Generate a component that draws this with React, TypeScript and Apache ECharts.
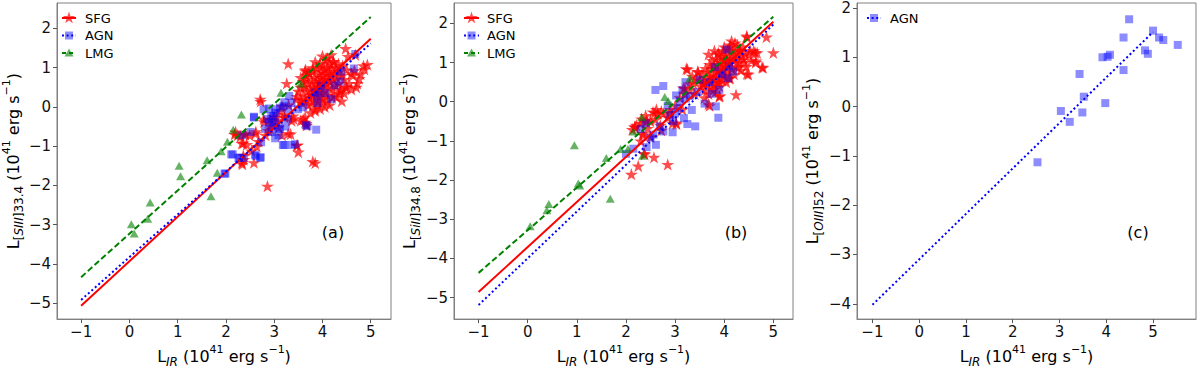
import React, { useEffect, useRef } from "react";
import * as echarts from "echarts";

// ---------- tick values ----------
const xTicks = [-1, 0, 1, 2, 3, 4, 5];
const yTicksAB = [-5, -4, -3, -2, -1, 0, 1, 2];
const yTicksC = [-4, -3, -2, -1, 0, 1, 2];

// ---------- axis ranges ----------
const xRanges = [[-1.5, 5.42], [-1.5, 5.4], [-1.33, 5.92]];
const yRanges = [[-5.41, 2.65], [-5.55, 2.52], [-4.31, 2.1]];

const panelLetters = ["(a)", "(b)", "(c)"];
const legendNamesAB = ["SFG", "AGN", "LMG"];
const legendNamesC = ["AGN"];

// ---------- fit lines ----------
const fitA_SFG = [[-1, -5.07], [5, 1.74]];
const fitA_AGN = [[-1, -4.92], [5, 1.62]];
const fitA_LMG = [[-1, -4.34], [5, 2.29]];
const fitB_SFG = [[-1, -4.86], [5, 2.04]];
const fitB_AGN = [[-1, -5.19], [5, 1.97]];
const fitB_LMG = [[-1, -4.37], [5, 2.17]];
const fitC_AGN = [[-1, -4.02], [5, 1.51]];

// ---------- panel (a) data ----------
const aLMG = [
  [0.04, -2.99], [0.1, -3.23], [0.38, -2.85], [0.43, -2.44], [1.03, -1.5], [1.06, -1.77],
  [1.61, -1.36], [1.69, -2.28], [1.82, -1.68], [1.9, -1.13], [2.03, -0.89], [2.15, -0.58],
  [2.32, -0.19], [3.14, 0.36], [3.55, 0.6],
];
const aAGN = [
  [1.99, -1.7], [2.11, -1.21], [2.26, -1.3], [2.37, -1.3], [2.71, -1.3], [2.6, -1.22],
  [2.58, -0.25], [2.73, -0.9], [2.81, -0.56], [2.89, -0.04], [2.94, -0.23], [2.97, -0.44],
  [3.02, -0.8], [3.03, -0.15], [3.12, -0.02], [3.18, -0.97], [3.21, 0.12], [3.24, -0.5],
  [3.28, -0.3], [3.36, 0.1], [3.43, -0.95], [3.49, -0.06], [3.69, -0.49], [3.87, -0.58],
  [3.89, 0.1], [4.18, 0.2], [4.37, 0.65], [4.65, 0.98], [4.68, 1.35], [4.38, 0.9],
  [3.97, 0.54], [2.89, -0.4], [3.09, -0.52], [3.31, 0.28], [3.6, -0.01], [3.84, 0.37],
  [2.78, -0.06], [3.02, -0.06], [2.98, -0.23], [3.19, 0.02], [3.29, -0.06], [3.02, -0.39],
  [3.12, -0.56], [3.21, -0.97], [3.36, -0.97], [3.66, -0.46], [2.14, -1.21], [2.28, -1.29],
  [2.62, -1.25], [2.72, -1.28], [1.97, -1.7], [2.58, -0.27], [2.34, -0.72], [2.51, -0.64],
  [2.95, -0.64], [2.85, -0.31], [3.09, -0.72], [3.9, 0.3], [4.05, 0.35], [4.25, 0.55],
];
const aSFG = [
  [2.33, -1.42], [2.36, -1.24], [2.58, -1.42], [2.86, -2.02], [2.72, 0.14], [2.79, -0.38],
  [2.24, -0.72], [2.36, -0.92], [2.49, -0.72], [2.62, -0.63], [2.68, -0.88], [2.82, -0.72],
  [2.88, -0.6], [3.09, -0.52], [3.16, -0.72], [3.26, 0.6], [3.29, 1.1], [3.34, -0.69],
  [3.47, -0.98], [3.5, -1.15], [3.85, -1.43], [2.43, -0.96], [2.53, -1.12], [2.3, -0.75],
  [2.18, -0.7], [2.4, -0.7], [2.95, -0.45], [3.0, -0.25], [3.05, -0.35], [3.12, -0.1],
  [3.2, -0.2], [3.3, 0.05], [3.4, -0.3], [3.45, 0.2], [2.71, 0.2], [2.78, -0.31],
  [3.36, -0.35], [3.39, -0.23], [3.55, -0.35], [3.48, -0.97], [3.8, -1.39], [2.2, -0.64],
  [2.4, -0.68], [2.33, -0.93], [2.61, -0.68], [2.92, -0.56], [3.29, -0.68], [2.34, -1.46],
  [2.37, -1.34], [2.64, -1.01], [2.92, -0.31], [3.05, -0.27], [3.22, -0.27], [3.6, -0.31],
  [3.66, -0.43], [3.55, 0.18],
  [3.6, 0.3], [3.62, 0.5], [3.65, 0.15], [3.66, 0.7], [3.68, 0.4], [3.7, 0.05], [3.7, 0.6],
  [3.72, 0.25], [3.73, 0.85], [3.75, 0.45], [3.76, 0.1], [3.78, 0.65], [3.79, 0.3], [3.8, 0.9],
  [3.8, 0.5], [3.82, 0.2], [3.83, 0.75], [3.84, -0.05], [3.85, 0.4], [3.86, 0.6], [3.88, 1.0],
  [3.88, 0.3], [3.9, 0.7], [3.9, 0.5], [3.91, 0.15], [3.92, 0.85], [3.93, 0.4], [3.94, 0.6],
  [3.95, 1.1], [3.95, 0.25], [3.96, 0.75], [3.97, 0.5], [3.98, 0.9], [3.99, 0.35], [4.0, 0.65],
  [4.0, 1.05], [4.01, 0.2], [4.02, 0.8], [4.03, 0.55], [4.04, 0.95], [4.05, 0.4], [4.06, 0.7],
  [4.07, 1.2], [4.08, 0.6], [4.09, 0.85], [4.1, 0.3], [4.1, 1.0], [4.12, 0.7], [4.13, 0.5],
  [4.14, 0.9], [4.15, 1.1], [4.16, 0.65], [4.18, 0.8], [4.19, 0.45], [4.2, 1.0], [4.22, 0.7],
  [4.23, 1.15], [4.25, 0.85], [4.27, 0.55], [4.28, 1.0], [4.3, 0.75], [4.32, 0.6], [4.33, 1.1],
  [4.35, 0.9], [4.37, 0.4], [4.38, 0.45], [4.4, 0.8], [4.42, 1.05], [4.45, 0.7], [4.47, 0.51],
  [4.48, 1.49], [4.5, 0.95], [4.53, 1.29], [4.55, 0.6], [4.6, 0.85], [4.63, 0.8], [4.66, 0.93],
  [4.68, 1.33], [4.7, 0.5], [4.72, 0.6], [4.76, 0.72], [4.79, 0.84], [4.85, 1.05], [4.87, 0.96],
  [4.93, 1.08], [4.18, 1.33], [4.22, 1.16], [3.67, 0.8], [3.64, 0.92], [3.47, 0.27],
  [3.64, -0.39], [3.64, -0.26], [3.67, -0.47], [3.16, 0.02], [3.55, 0.5], [3.5, 0.4], [3.58, 0.1],
  [3.75, -0.15], [3.85, -0.1], [3.95, -0.05], [3.9, 0.05], [4.0, 0.1], [4.05, 0.0], [4.1, 0.15],
  [4.2, 0.25], [4.25, 0.3], [4.35, 0.35], [4.45, 0.35], [4.5, 0.5], [4.6, 0.45], [4.4, 0.15],
  [3.7, 0.9], [3.8, 1.0], [3.6, 0.65], [3.55, 0.75], [3.85, 1.15], [4.0, 1.3], [4.1, 1.25],
  [3.65, 0.95], [4.3, 0.25], [4.15, 0.05],
];

// ---------- panel (b) data ----------
const bLMG = [
  [0.05, -3.18], [0.39, -2.77], [0.43, -2.61], [0.95, -1.11], [1.06, -2.14], [1.03, -2.09],
  [1.6, -1.44], [1.68, -2.48], [1.89, -1.21], [2.04, -1.21], [2.15, -0.76], [2.32, -0.39],
  [2.34, -1.38], [2.79, 0.12], [2.86, 0.02], [3.3, 0.6],
];
const bAGN = [
  [2.0, -1.33], [2.15, -1.2], [2.42, -1.16], [2.6, 0.3], [2.76, 0.4], [2.61, -1.1],
  [2.5, -0.92], [2.76, -0.76], [2.95, -0.78], [3.02, 0.16], [3.1, 0.0], [3.21, 0.5],
  [3.22, 0.08], [3.18, -0.42], [3.25, -0.57], [3.41, -0.63], [2.9, -0.34], [2.96, -0.5],
  [3.06, -0.17], [3.34, -0.21], [3.5, 0.56], [3.81, 0.88], [3.83, -0.12], [3.88, -0.41],
  [4.05, 1.33], [4.08, 0.6], [4.18, 0.77], [3.6, -0.05], [2.69, -0.63], [2.56, -0.84],
  [2.4, -0.55], [2.3, -0.7], [2.85, -0.1], [3.0, -0.3], [3.15, 0.3], [3.3, 0.15],
  [3.45, 0.25], [3.7, 0.5], [3.95, 0.7], [4.1, 0.9], [3.9, 0.3], [3.75, 0.2],
];
const bSFG = [
  [2.11, -1.85], [2.25, -1.64], [2.37, -1.32], [2.57, -1.42], [2.85, -1.6], [2.13, -0.71],
  [2.21, -0.6], [2.42, -0.47], [2.55, -0.26], [2.76, -0.3], [3.02, -0.54], [2.34, -0.81],
  [2.44, -0.68], [2.18, -0.65], [2.3, -0.55], [2.5, -0.5], [2.6, -0.45], [2.65, -0.3],
  [2.7, -0.6], [2.85, -0.4], [2.9, -0.2], [2.95, -0.55], [3.0, -0.1], [3.1, 0.1], [3.15, -0.2],
  [3.2, 0.2], [3.25, 0.83], [3.46, 0.77], [2.3, -1.0], [2.5, -0.9], [2.4, -0.35], [2.62, -0.2],
  [2.18, -0.64], [2.32, -0.44], [2.42, -0.52], [2.59, -0.28], [2.72, -0.24], [2.89, -0.28],
  [3.03, -0.57], [2.35, -0.85], [2.38, -1.34], [2.72, -0.73], [3.2, 0.34], [3.3, 0.46],
  [3.5, 0.55], [3.52, 0.4], [3.55, 0.7], [3.58, 0.5], [3.6, 0.3], [3.62, 0.85], [3.64, 0.6],
  [3.65, 0.45], [3.67, 0.75], [3.68, 0.2], [3.7, 0.95], [3.7, 0.55], [3.72, 0.65], [3.74, 0.35],
  [3.75, 0.85], [3.76, 1.05], [3.78, 0.6], [3.79, 0.45], [3.8, 0.9], [3.8, 0.75], [3.82, 0.25],
  [3.83, 1.1], [3.84, 0.65], [3.85, 0.5], [3.86, 0.95], [3.88, 0.8], [3.89, 1.2], [3.9, 0.6],
  [3.9, 0.4], [3.92, 1.0], [3.93, 0.85], [3.94, 0.7], [3.95, 1.15], [3.96, 0.55], [3.97, 0.95],
  [3.98, 1.3], [3.99, 0.8], [4.0, 1.05], [4.0, 0.65], [4.02, 1.2], [4.03, 0.9], [4.04, 0.5],
  [4.05, 1.1], [4.06, 0.75], [4.08, 1.35], [4.09, 0.95], [4.1, 1.15], [4.1, 0.6], [4.12, 1.0],
  [4.13, 1.4], [4.15, 0.85], [4.16, 1.25], [4.18, 1.05], [4.2, 0.7], [4.21, 1.3], [4.23, 1.1],
  [4.25, 0.9], [4.27, 1.45], [4.28, 1.2], [4.3, 1.0], [4.32, 1.3], [4.34, 0.8], [4.36, 1.15],
  [4.38, 1.4], [4.4, 1.0], [4.42, 1.25], [4.45, 0.9], [4.46, 1.68], [4.5, 1.2], [4.53, 1.3],
  [4.55, 1.05], [4.6, 1.3], [4.63, 1.25], [4.65, 1.04], [4.77, 0.88], [4.86, 1.65], [5.0, 1.25],
  [4.46, 0.71], [4.24, 0.18], [3.23, 0.84], [3.47, 0.76], [3.68, 1.21], [3.88, 1.25],
  [4.12, 1.45], [4.22, 1.5], [4.32, 1.3], [4.39, 1.09], [4.29, 0.88], [4.12, 0.6], [3.91, 0.15],
  [3.68, -0.06], [3.7, -0.1], [3.78, 0.31], [3.57, 0.47], [3.37, 0.47], [3.17, 0.35], [3.3, 0.3],
  [3.4, 0.2], [3.45, 0.6], [3.35, 0.65], [3.6, 0.1], [3.9, 0.13], [3.9, 0.5], [4.49, 0.7],
  [4.79, 0.87], [4.64, 1.0], [4.67, 1.25], [4.46, 1.65], [4.0, 1.4], [4.15, 1.55], [3.8, 1.3],
];

// ---------- panel (c) data ----------
const cAGN = [
  [2.53, -1.13], [3.03, -0.09], [3.22, -0.31], [3.43, 0.66], [3.52, 0.2], [3.49, -0.12],
  [3.98, 0.07], [3.92, 1.0], [4.03, 1.01], [4.08, 1.05], [4.37, 1.4], [4.37, 0.74],
  [4.49, 1.77], [4.83, 1.14], [4.89, 1.07], [5.0, 1.54], [5.13, 1.4], [5.22, 1.35], [5.53, 1.25],
];

// ---------- styling ----------
const FONT = "DejaVu Sans";
const RED = "#ff0000";
const BLUE = "#0000ff";
const GREEN = "#008000";
const STAR =
  "path://M0,-10L2.245,-3.09L9.511,-3.09L3.633,1.18L5.878,8.09L0,3.82L-5.878,8.09L-3.633,1.18L-9.511,-3.09L-2.245,-3.09Z";

const grids = [
  { left: 52, top: 3, width: 339, height: 328 },
  { left: 454, top: 3, width: 339, height: 329 },
  { left: 857, top: 3, width: 339, height: 329 },
];

const fmt = (v: number) => (v < 0 ? "\u2212" + Math.abs(v) : String(v));

const richStyles = {
  b: { fontSize: 16, lineHeight: 24, fontFamily: FONT, color: "#000" },
  s: { fontSize: 12, fontFamily: FONT, color: "#000", verticalAlign: "bottom" },
  si: { fontSize: 12, fontFamily: FONT, color: "#000", verticalAlign: "bottom", fontStyle: "italic" },
  p: { fontSize: 11, fontFamily: FONT, color: "#000", verticalAlign: "top" },
};

const xName = "{b|L}{si|IR}{b| (10}{p|41}{b| erg s}{p|\u22121}{b|)}";
const yNames = [
  "{b|L}{s|[}{si|SIII}{s|]33.4}{b| (10}{p|41}{b| erg s}{p|\u22121}{b|)}",
  "{b|L}{s|[}{si|SiII}{s|]34.8}{b| (10}{p|41}{b| erg s}{p|\u22121}{b|)}",
  "{b|L}{s|[}{si|OIII}{s|]52}{b| (10}{p|41}{b| erg s}{p|\u22121}{b|)}",
];
const yNameGaps = [29, 30, 30];

function makeX(i: number) {
  return {
    type: "value",
    gridIndex: i,
    min: xRanges[i][0],
    max: xRanges[i][1],
    name: xName,
    nameLocation: "middle",
    nameGap: 18,
    nameTextStyle: { rich: richStyles },
    axisLine: { show: true, onZero: false, lineStyle: { color: "#808080", width: 1 } },
    axisTick: { show: true, inside: false, length: 4, customValues: xTicks, lineStyle: { color: "#555" } },
    axisLabel: { customValues: xTicks, formatter: fmt, fontSize: 15, fontFamily: FONT, color: "#111", margin: 5 },
    splitLine: { show: false },
  };
}
function makeY(i: number) {
  const ticks = i === 2 ? yTicksC : yTicksAB;
  return {
    type: "value",
    gridIndex: i,
    min: yRanges[i][0],
    max: yRanges[i][1],
    name: yNames[i],
    nameLocation: "middle",
    nameGap: yNameGaps[i],
    nameTextStyle: { rich: richStyles },
    axisLine: { show: true, onZero: false, lineStyle: { color: "#808080", width: 1 } },
    axisTick: { show: true, inside: false, length: 4, customValues: ticks, lineStyle: { color: "#555" } },
    axisLabel: { customValues: ticks, formatter: fmt, fontSize: 15, fontFamily: FONT, color: "#111", margin: 6 },
    splitLine: { show: false },
  };
}

function scatter(i: number, data: number[][], kind: string) {
  const base: any = { type: "scatter", xAxisIndex: i, yAxisIndex: i, data, z: 2 };
  if (kind === "SFG") {
    return { ...base, symbol: STAR, symbolSize: 13, symbolKeepAspect: true, itemStyle: { color: RED, opacity: 0.7 } };
  }
  if (kind === "AGN") {
    return { ...base, symbol: "rect", symbolSize: 8, itemStyle: { color: BLUE, opacity: 0.45 } };
  }
  return { ...base, symbol: "triangle", symbolSize: [9, 8], itemStyle: { color: GREEN, opacity: 0.6 } };
}

function fitLine(i: number, data: number[][], kind: string) {
  const style: any =
    kind === "SFG"
      ? { color: RED, width: 2, type: "solid" }
      : kind === "AGN"
      ? { color: BLUE, width: 2, type: [2, 2.6] }
      : { color: GREEN, width: 2, type: [6, 3] };
  return {
    type: "line",
    xAxisIndex: i,
    yAxisIndex: i,
    data,
    symbol: "none",
    lineStyle: style,
    z: 3,
    silent: true,
  };
}

function starPoints(cx: number, cy: number, r: number) {
  const pts: number[][] = [];
  for (let k = 0; k < 10; k++) {
    const a = -Math.PI / 2 + (k * Math.PI) / 5;
    const rr = k % 2 === 0 ? r : r * 0.38;
    pts.push([cx + rr * Math.cos(a), cy + rr * Math.sin(a)]);
  }
  return pts;
}

function legendItem(kind: string, x0: number, x1: number, textX: number, y: number) {
  const cx = (x0 + x1) / 2;
  const els: any[] = [];
  const lineStyle: any =
    kind === "SFG"
      ? { stroke: RED, lineWidth: 2 }
      : kind === "AGN"
      ? { stroke: BLUE, lineWidth: 2, lineDash: [2, 2.6] }
      : { stroke: GREEN, lineWidth: 2, lineDash: [4, 3] };
  els.push({ type: "line", shape: { x1: x0, y1: y, x2: x1, y2: y }, style: lineStyle, z: 10 });
  if (kind === "SFG") {
    els.push({ type: "polygon", shape: { points: starPoints(cx, y, 6.5) }, style: { fill: RED, opacity: 0.7 }, z: 11 });
  } else if (kind === "AGN") {
    els.push({ type: "rect", shape: { x: cx - 4, y: y - 4, width: 8, height: 8 }, style: { fill: BLUE, opacity: 0.45 }, z: 11 });
  } else {
    els.push({
      type: "polygon",
      shape: { points: [[cx, y - 4.5], [cx + 4.5, y + 3.5], [cx - 4.5, y + 3.5]] },
      style: { fill: GREEN, opacity: 0.6 },
      z: 11,
    });
  }
  els.push({
    type: "text",
    x: textX,
    y,
    style: { text: kind, font: `13px "${FONT}"`, fill: "#000", textVerticalAlign: "middle", textAlign: "left" },
    z: 11,
  });
  return els;
}

export default function App() {
  const ref = useRef<HTMLDivElement>(null);
  useEffect(() => {
    if (!ref.current) return;
    const chart = echarts.init(ref.current, undefined, { renderer: "svg" });

    const graphic: any[] = [];
    const legendRows = [18, 35.5, 53];
    legendNamesAB.forEach((n, k) => graphic.push(...legendItem(n, 62, 76, 85, legendRows[k])));
    legendNamesAB.forEach((n, k) => graphic.push(...legendItem(n, 464, 479, 487, legendRows[k])));
    legendNamesC.forEach((n, k) => graphic.push(...legendItem(n, 867, 881, 890, legendRows[k])));
    const letterPos = [[333, 232], [736, 232], [1138, 232]];
    panelLetters.forEach((t, k) =>
      graphic.push({
        type: "text",
        x: letterPos[k][0],
        y: letterPos[k][1],
        style: { text: t, font: `16px "${FONT}"`, fill: "#000", textAlign: "center", textVerticalAlign: "middle" },
        z: 11,
      })
    );

    chart.setOption({
      animation: false,
      backgroundColor: "#fff",
      textStyle: { fontFamily: FONT },
      grid: grids.map((g) => ({ ...g, show: true, borderColor: "#808080", borderWidth: 1, backgroundColor: "transparent", containLabel: false })),
      xAxis: [0, 1, 2].map(makeX),
      yAxis: [0, 1, 2].map(makeY),
      series: [
        scatter(0, aSFG, "SFG"),
        scatter(0, aAGN, "AGN"),
        scatter(0, aLMG, "LMG"),
        fitLine(0, fitA_SFG, "SFG"),
        fitLine(0, fitA_AGN, "AGN"),
        fitLine(0, fitA_LMG, "LMG"),
        scatter(1, bSFG, "SFG"),
        scatter(1, bAGN, "AGN"),
        scatter(1, bLMG, "LMG"),
        fitLine(1, fitB_SFG, "SFG"),
        fitLine(1, fitB_AGN, "AGN"),
        fitLine(1, fitB_LMG, "LMG"),
        scatter(2, cAGN, "AGN"),
        fitLine(2, fitC_AGN, "AGN"),
      ],
      graphic,
    });
    return () => chart.dispose();
  }, []);
  return (
    <div
      ref={ref}
      style={{ position: "fixed", left: 0, top: 0, width: 1200, height: 373, background: "#fff" }}
    />
  );
}
